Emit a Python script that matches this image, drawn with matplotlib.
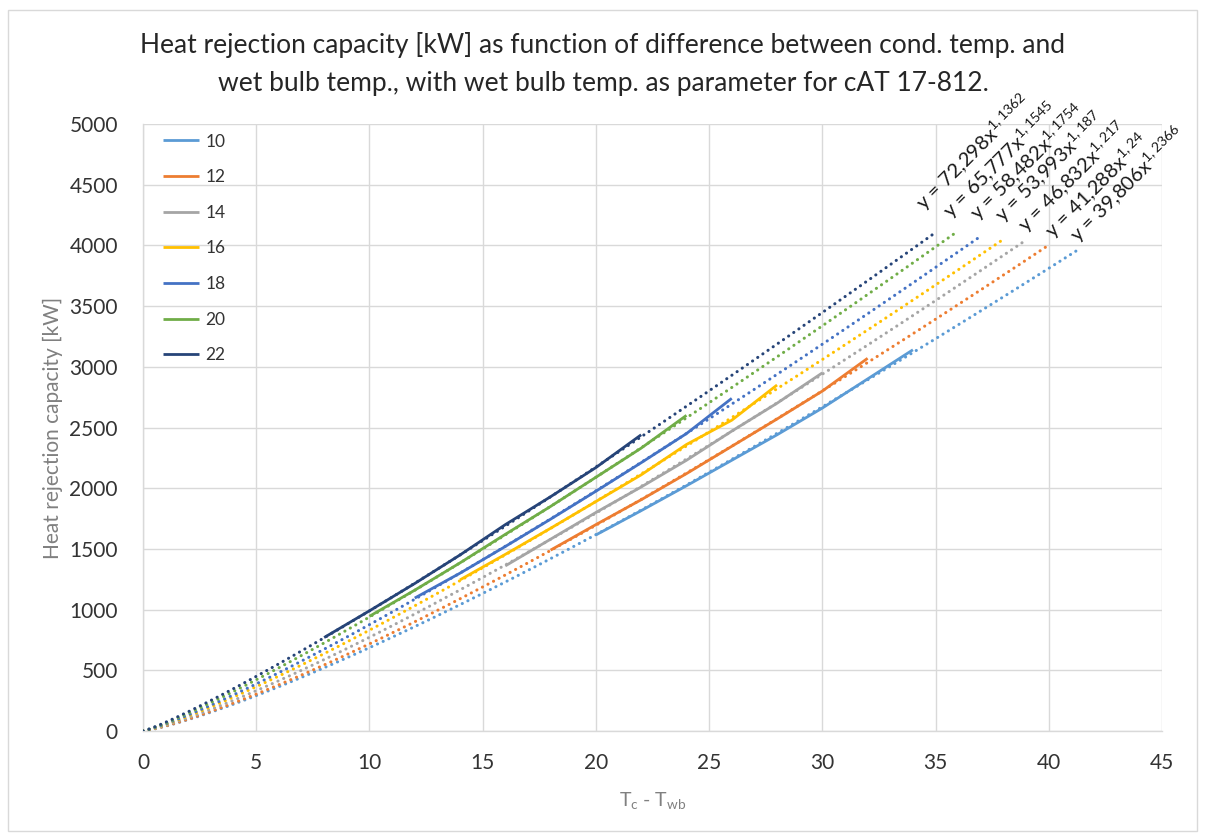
import numpy as np
import matplotlib
matplotlib.use("Agg")
import matplotlib.pyplot as plt
from matplotlib.patches import Rectangle

plt.rcParams['font.family'] = ['Lato', 'DejaVu Sans']
plt.rcParams['mathtext.fontset'] = 'custom'
plt.rcParams['mathtext.rm'] = 'Lato'
plt.rcParams['mathtext.it'] = 'Lato:italic'

# ---------------- data ----------------
wet_bulb = [10, 12, 14, 16, 18, 20, 22]
colors = ['#5B9BD5', '#ED7D31', '#A5A5A5', '#FFC000', '#4472C4', '#70AD47', '#264478']

dt_10 = [20, 22, 24, 26, 28, 30, 32, 34]
q_10 = [1615, 1815, 2020, 2230, 2440, 2660, 2900, 3140]
dt_12 = [18, 20, 22, 24, 26, 28, 30, 32]
q_12 = [1490, 1700, 1905, 2120, 2345, 2570, 2800, 3070]
dt_14 = [16, 18, 20, 22, 24, 26, 28, 30]
q_14 = [1360, 1580, 1800, 2010, 2230, 2470, 2700, 2950]
dt_16 = [14, 16, 18, 20, 22, 24, 26, 28]
q_16 = [1245, 1455, 1670, 1890, 2110, 2360, 2560, 2850]
dt_18 = [12, 14, 16, 18, 20, 22, 24, 26]
q_18 = [1095, 1300, 1520, 1745, 1975, 2210, 2450, 2740]
dt_20 = [10, 12, 14, 16, 18, 20, 22, 24]
q_20 = [945, 1160, 1385, 1620, 1850, 2090, 2330, 2600]
dt_22 = [8, 10, 12, 14, 16, 18, 20, 22]
q_22 = [770, 990, 1215, 1450, 1700, 1930, 2170, 2440]

# power trendlines y = a * x^b, as printed on the chart
trend_a = [39.806, 41.288, 46.832, 53.993, 58.482, 65.777, 72.298]
trend_b = [1.2366, 1.24, 1.217, 1.187, 1.1754, 1.1545, 1.1362]
trend_a_txt = ['39,806', '41,288', '46,832', '53,993', '58,482', '65,777', '72,298']
trend_b_txt = ['1,2366', '1,24', '1,217', '1,187', '1,1754', '1,1545', '1,1362']
trend_end = [41.2, 40, 39, 38, 37, 36, 35]

x_ticks = [0, 5, 10, 15, 20, 25, 30, 35, 40, 45]
y_ticks = [0, 500, 1000, 1500, 2000, 2500, 3000, 3500, 4000, 4500, 5000]

title_lines = ["Heat rejection capacity [kW] as function of difference between cond. temp. and",
               "wet bulb temp., with wet bulb temp. as parameter for cAT 17-812."]

series_dt = [dt_10, dt_12, dt_14, dt_16, dt_18, dt_20, dt_22]
series_q = [q_10, q_12, q_14, q_16, q_18, q_20, q_22]

# equation label anchors (data coords, lower-left of rotated text)
label_pos = [(41.47, 3987), (40.37, 4020), (39.18, 4069), (38.16, 4152),
             (37.06, 4168), (35.87, 4185), (34.67, 4250)]

# ---------------- figure ----------------
fig = plt.figure(figsize=(12.06, 8.33), dpi=100)
fig.patch.set_facecolor('white')
fig.patches.append(Rectangle((8 / 1206, 2 / 833), 1189 / 1206, 821 / 833,
                             transform=fig.transFigure, fill=False,
                             edgecolor='#D9D9D9', linewidth=1.0))

ax = fig.add_axes([143 / 1206, 1 - 731 / 833, 1019 / 1206, 607 / 833])

grid_c = '#D9D9D9'
ax.set_xlim(0, 45)
ax.set_ylim(0, 5000)
ax.set_xticks(x_ticks)
ax.set_yticks(y_ticks)
ax.grid(True, color=grid_c, linewidth=1.0)
ax.set_axisbelow(True)
for s in ['top', 'right']:
    ax.spines[s].set_visible(False)
for s in ['left', 'bottom']:
    ax.spines[s].set_color(grid_c)
    ax.spines[s].set_linewidth(1.0)
ax.tick_params(length=0, labelsize=15, colors='#333333')
ax.tick_params(axis='y', pad=18)
ax.tick_params(axis='x', pad=16)

handles = []
for i, wb in enumerate(wet_bulb):
    h, = ax.plot(series_dt[i], series_q[i], color=colors[i], linewidth=2.0,
                 label=str(wb), zorder=3, solid_capstyle='butt')
    handles.append(h)

for i, wb in enumerate(wet_bulb):
    xt = np.linspace(0.0, trend_end[i], 300)
    yt = trend_a[i] * xt ** trend_b[i]
    ax.plot(xt, yt, color=colors[i], linewidth=2.2, linestyle=(0, (0.05, 2.0)),
            dash_capstyle='round', zorder=4)
    ax.text(label_pos[i][0], label_pos[i][1],
            'y = ' + trend_a_txt[i] + 'x$^{' + trend_b_txt[i] + '}$',
            rotation=45, rotation_mode='anchor', ha='left', va='bottom',
            fontsize=14.5, color='#1a1a1a', zorder=5)

leg = ax.legend(handles=handles, loc='upper left', bbox_to_anchor=(0.01, 1.0),
                frameon=False, fontsize=12.5, handlelength=2.1, handletextpad=0.35,
                labelspacing=1.13, borderaxespad=0.15)
for t in leg.get_texts():
    t.set_color('#333333')

ax.set_ylabel('Heat rejection capacity [kW]', fontsize=15, color='#808080', labelpad=5)
ax.set_xlabel(r'T$_{\mathregular{c}}$ - T$_{\mathregular{wb}}$', fontsize=14,
              color='#808080', labelpad=12)

fig.text(0.5, 1 - 45 / 833, title_lines[0], ha='center', va='center',
         fontsize=19, color='#262626')
fig.text(0.5, 1 - 83 / 833, title_lines[1], ha='center', va='center',
         fontsize=19, color='#262626')

fig.savefig('out.png', dpi=100, facecolor='white')
